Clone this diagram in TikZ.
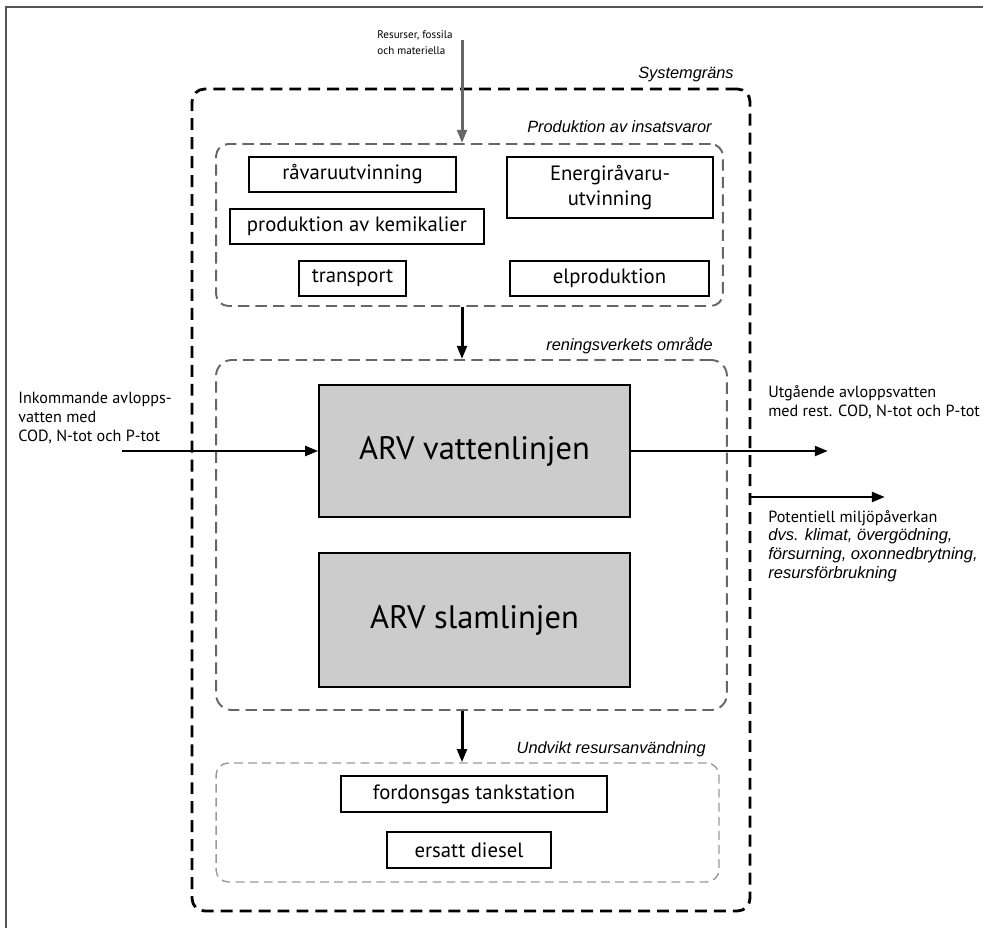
\documentclass[tikz,border=0pt]{standalone}
\usepackage{fontspec}
\setmainfont{PT Sans}
\newfontfamily\helvfont{Liberation Sans}
\usepackage{tikz}
\usetikzlibrary{arrows.meta, positioning}
\definecolor{framegray}{HTML}{555555}
\definecolor{regiongray}{HTML}{666666}
\definecolor{lightgray}{HTML}{999999}
\definecolor{arvfill}{HTML}{CCCCCC}

\begin{document}
\begin{tikzpicture}[
  x=0.02cm, y=-0.02cm,
  box/.style={rectangle, draw=black, line width=0.8pt, minimum height=0.7cm,
              inner sep=2pt, align=center, font=\fontsize{11.8}{14}\selectfont},
  arvbox/.style={rectangle, draw=black, line width=0.8pt, fill=arvfill,
              minimum width=6.22cm, font=\fontsize{18.5}{20}\selectfont},
  region/.style={rectangle, rounded corners=7pt, draw=regiongray,
              line width=1.1pt, dash pattern=on 6.5pt off 3.5pt},
  arr/.style={-{Triangle[length=7.5pt, width=5.5pt]}, line width=1.7pt, color=black},
  lbl/.style={font=\fontsize{9.2}{10.7}\selectfont, align=left, inner sep=0pt},
  ilbl/.style={font=\helvfont\itshape\fontsize{9.3}{10}\selectfont, inner sep=0pt}
]
\useasboundingbox (0,0) rectangle (983,928);

% Frame
\draw[framegray, line width=1pt] (983,7) -- (6,7) -- (6,928);

% System boundary
\node[region, draw=black, line width=1.6pt, rounded corners=7pt,
      dash pattern=on 6.8pt off 4pt,
      minimum width=11.16cm, minimum height=16.44cm] (sys) at (471,500) {};
\node[ilbl, anchor=east] (syslbl) at (734,74) {Systemgräns};

% Production of inputs
\node[region, minimum width=10.14cm, minimum height=3.24cm] (prod) at (469.5,225) {};
\node[ilbl, anchor=east] (prodlbl) at (712,127) {Produktion av insatsvaror};
\node[box, minimum width=4.14cm] (ravaru) at (352.5,174.5) {råvaruutvinning};
\node[box, minimum width=4.12cm, minimum height=1.22cm] (energi) at (610,187.5) {Energiråvaru-\\utvinning};
\node[box, minimum width=5.08cm] (kemi) at (357,226.5) {produktion av kemikalier};
\node[box, minimum width=2.14cm] (transp) at (352.5,278.5) {transport};
\node[box, minimum width=3.98cm] (elprod) at (609.5,278.5) {elproduktion};

% Treatment plant
\node[region, rounded corners=9pt, minimum width=10.22cm, minimum height=7.0cm] (ren) at (471.5,535) {};
\node[ilbl, anchor=east] (renlbl) at (713,346) {reningsverkets område};
\node[arvbox, minimum height=2.64cm] (vatten) at (474.5,451) {ARV vattenlinjen};
\node[arvbox, minimum height=2.68cm] (slam) at (474.5,620) {ARV slamlinjen};

% Avoided resources
\node[region, draw=lightgray, line width=0.8pt, dash pattern=on 5pt off 3pt,
      minimum width=10.06cm, minimum height=2.38cm] (undv) at (467.5,822.5) {};
\node[ilbl, anchor=east] (undvlbl) at (706,749) {Undvikt resursanvändning};
\node[box, minimum width=5.32cm, minimum height=0.72cm] (fordon) at (474,794) {fordonsgas tankstation};
\node[box, minimum width=3.28cm, minimum height=0.72cm] (diesel) at (469,850) {ersatt diesel};

% Outside labels
\node[lbl, anchor=east, font=\fontsize{6.3}{9}\selectfont] (reslbl) at (453,43) {Resurser, fossila\\och materiella};
\node[lbl, anchor=west] (inlbl) at (18,418) {Inkommande avlopps-\\vatten med\\COD, N-tot och P-tot};
\node[lbl, anchor=west] (outlbl) at (768,402.5) {Utgående avloppsvatten\\med rest. COD, N-tot och P-tot};
\node[lbl, anchor=west] (potlbl) at (768,546) {Potentiell miljöpåverkan\\
  {\helvfont\itshape\fontsize{9.4}{10}\selectfont dvs. klimat, övergödning,}\\
  {\helvfont\itshape\fontsize{9.4}{10}\selectfont försurning, oxonnedbrytning,}\\
  {\helvfont\itshape\fontsize{9.4}{10}\selectfont resursförbrukning}};

% Arrows
\coordinate (spine) at (462,0);
\coordinate (resstart) at (462,40);
\coordinate (instart) at (122,451);
\coordinate (outend) at (828,451);
\coordinate (potend) at (885,497);
\draw[arr, color=regiongray] (resstart) -- (prod.north -| spine);
\draw[arr] (prod.south -| spine) -- (ren.north -| spine);
\draw[arr] (ren.south -| spine) -- (undv.north -| spine);
\draw[arr] (instart) -- (vatten.west);
\draw[arr] (vatten.east) -- (outend);
\draw[arr] (sys.east |- potend) -- (potend);

\end{tikzpicture}
\end{document}
